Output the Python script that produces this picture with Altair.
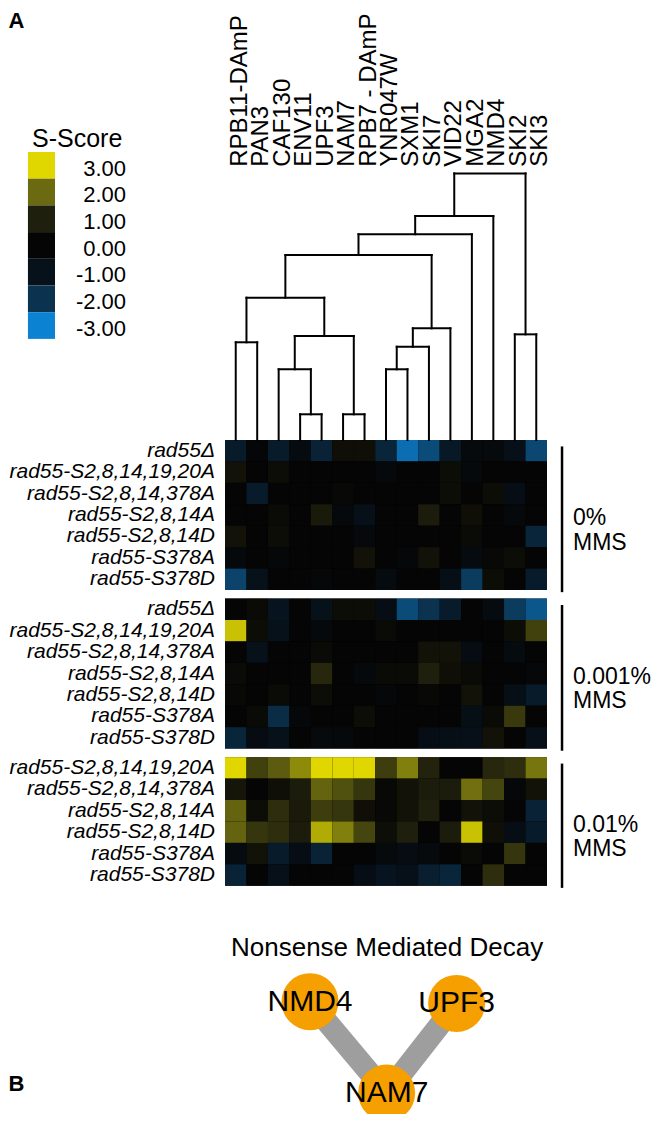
import altair as alt
import pandas as pd

# ---------------- data ----------------
GENES = ["RPB11-DAmP", "PAN3", "CAF130", "ENV11", "UPF3", "NAM7", "RPB7 - DAmP",
         "YNR047W", "SXM1", "SKI7", "VID22", "MGA2", "NMD4", "SKI2", "SKI3"]
STRAINS = ["rad55\u0394", "rad55-S2,8,14,19,20A", "rad55-S2,8,14,378A", "rad55-S2,8,14A",
           "rad55-S2,8,14D", "rad55-S378A", "rad55-S378D"]
STRAINS_001 = STRAINS[1:]
BLOCK_TITLES = ["0%", "0.001%", "0.01%"]
BLOCK_SUB = "MMS"

MMS_0 = [
    [-1.3, -0.1, -1.3, -0.5, -1.5, 0.4, 0.4, -1.6, -2.75, -2.3, -1.2, -0.4, -0.4, -0.9, -2.25],
    [0.5, 0.0, 0.3, 0.0, 0.0, 0.0, 0.0, -0.3, 0.0, 0.0, 0.3, -0.3, 0.0, 0.0, 0.0],
    [0.0, -1.3, 0.0, 0.0, 0.0, 0.1, 0.0, 0.0, 0.0, 0.0, 0.3, 0.0, 0.3, -0.7, 0.0],
    [0.0, 0.0, 0.2, 0.0, 0.8, -0.3, -0.9, 0.0, 0.0, 0.9, 0.0, 0.4, 0.0, -0.3, 0.0],
    [0.5, 0.0, 0.3, 0.0, 0.0, 0.0, -0.3, 0.0, 0.0, 0.0, 0.0, 0.2, 0.0, 0.0, -1.6],
    [-0.3, 0.0, -0.2, 0.0, 0.0, 0.0, 0.5, 0.0, -0.2, 0.5, 0.0, -0.5, 0.1, 0.3, 0.0],
    [-2.2, -1.0, 0.0, 0.0, -0.2, 0.0, 0.0, -0.5, 0.0, 0.0, -0.8, -2.1, 0.3, 0.0, -1.3],
]
MMS_0001 = [
    [0.0, 0.2, -1.1, 0.0, -1.0, 0.3, 0.3, -0.7, -2.3, -2.0, -1.3, 0.0, -0.5, -2.1, -2.45],
    [2.8, 0.3, -1.0, 0.0, -0.3, 0.0, 0.0, 0.2, 0.0, 0.0, 0.0, 0.0, 0.0, 0.3, 1.45],
    [0.0, -1.0, 0.0, 0.0, 0.2, 0.0, 0.0, 0.0, 0.0, 0.5, 0.5, -0.6, 0.0, -0.5, 0.0],
    [0.2, 0.0, 0.0, 0.0, 1.1, 0.0, -0.3, 0.2, 0.2, 1.0, 0.4, 0.2, 0.0, 0.0, -0.2],
    [0.1, 0.0, 0.2, 0.0, 0.3, 0.0, 0.0, -0.2, 0.0, 0.1, 0.0, 0.5, 0.0, -0.8, -1.3],
    [0.0, 0.2, -1.8, -0.2, 0.0, 0.0, 0.3, 0.0, 0.0, 0.0, 0.0, -0.8, 0.2, 1.35, 0.0],
    [-1.6, -0.6, -1.0, 0.0, -0.4, -0.3, 0.0, 0.0, 0.0, -0.7, -0.8, -0.9, 0.5, 0.0, -0.9],
]
MMS_001 = [
    [3.0, 1.45, 1.8, 2.3, 3.0, 3.0, 3.0, 1.4, 2.2, 1.05, 0.0, 0.0, 1.1, 1.2, 2.1],
    [0.6, 0.0, 0.4, 0.9, 1.9, 1.65, 1.3, 0.1, 0.5, 0.9, 0.9, 2.05, 1.5, -0.2, 0.5],
    [1.9, 0.3, 1.2, 0.8, 1.4, 1.3, 0.4, 0.1, 0.5, 1.0, 0.0, 0.5, 0.3, 0.0, -1.5],
    [1.9, 1.3, 1.2, 0.9, 2.6, 2.2, 1.5, 0.35, 1.0, 0.0, 0.9, 2.8, 0.4, -0.7, -1.3],
    [-0.5, 0.5, -1.3, -0.7, -1.5, 0.0, 0.0, -0.4, -0.6, -0.4, 0.0, 0.2, 0.0, 1.3, 0.0],
    [-1.5, 0.0, -0.9, 0.0, 0.0, 0.0, -0.7, -1.1, -0.9, -1.4, -1.6, 0.0, 1.2, 0.0, 0.0],
]

# dendrogram linkage: (left id, right id, merge height); leaves are 0..14, merges 15..
LINK_LEFT = [3, 5, 7, 2, 0, 17, 18, 13, 20, 19, 24, 25, 26, 27]
LINK_RIGHT = [4, 6, 8, 15, 1, 9, 16, 14, 10, 21, 23, 11, 12, 22]
LINK_HEIGHT = [1.20, 1.20, 3.30, 3.30, 4.56, 4.35, 4.85, 4.93, 5.21, 6.64, 8.63, 9.60, 10.45, 12.44]

LEGEND_VALUES = [3, 2, 1, 0, -1, -2, -3]
LEGEND_COLORS = ["#e0d700", "#6b6a10", "#1f1f0d", "#050505", "#07111a", "#0b3350", "#0b82d2"]

NODE_NAMES = ["NMD4", "UPF3", "NAM7"]
NODE_X = [3.96, 10.79, 7.53]
NODE_Y = [26.21, 26.29, 30.47]
EDGE_FROM = ["NMD4", "UPF3"]
EDGE_TO = ["NAM7", "NAM7"]
NETWORK_TITLE = "Nonsense Mediated Decay"

# ---------------- layout ----------------
W, H = 646, 1106
CELL_W = 322 / 15
ROW_H = 21.43
HM_LEFT, HM_TOP = 217, 432
XDOM = [-HM_LEFT / CELL_W, (W - HM_LEFT) / CELL_W]
YDOM = [-HM_TOP / ROW_H, (H - HM_TOP) / ROW_H]
GAP = 0.4
FONT = "Liberation Sans"

blocks = [(MMS_0, STRAINS), (MMS_0001, STRAINS), (MMS_001, STRAINS_001)]
starts = []
s0 = 0.0
for vals, _ in blocks:
    starts.append(s0)
    s0 += len(vals) + GAP


def X(f):
    return alt.X(f"{f}:Q", scale=alt.Scale(domain=XDOM, nice=False, zero=False), axis=None)


def Y(f):
    return alt.Y(f"{f}:Q", scale=alt.Scale(domain=YDOM, nice=False, zero=False, reverse=True), axis=None)


asc = sorted(zip(LEGEND_VALUES, LEGEND_COLORS))
COLOR = alt.Color("s:Q", scale=alt.Scale(domain=[a for a, _ in asc], range=[c for _, c in asc],
                                         clamp=True, interpolate="rgb"), legend=None)

# heatmap table
cells, rowlabs, bg, bars, btxt = [], [], [], [], []
for b, ((vals, names), st) in enumerate(zip(blocks, starts)):
    n = len(vals)
    bg.append({"x": 0, "x2": len(GENES), "y": st, "y2": st + n})
    bars.append({"x": 15.7, "y": st + 0.3, "y2": st + n + 0.1})
    mid = st + n / 2
    btxt.append({"x": 16.21, "y": mid + 0.15, "t": BLOCK_TITLES[b]})
    btxt.append({"x": 16.21, "y": mid + 1.3, "t": BLOCK_SUB})
    for r, (row, nm) in enumerate(zip(vals, names)):
        rowlabs.append({"x": -0.466, "y": st + r + 0.5, "t": nm})
        for c, v in enumerate(row):
            cells.append({"x": c, "x2": c + 1, "y": st + r, "y2": st + r + 1, "s": v})

cells = pd.DataFrame(cells)
rowlabs = pd.DataFrame(rowlabs)
bg = pd.DataFrame(bg)
bars = pd.DataFrame(bars)
btxt = pd.DataFrame(btxt)

# dendrogram segments
pos = {i: (i + 0.5, 0.0) for i in range(len(GENES))}
segs = []
for k, (a, b, h) in enumerate(zip(LINK_LEFT, LINK_RIGHT, LINK_HEIGHT)):
    xa, ha = pos[a]
    xb, hb = pos[b]
    segs.append({"x": xa, "x2": xa, "y": -ha, "y2": -h})
    segs.append({"x": xb, "x2": xb, "y": -hb, "y2": -h})
    segs.append({"x": xa, "x2": xb, "y": -h, "y2": -h})
    pos[len(GENES) + k] = ((xa + xb) / 2, h)
segs = pd.DataFrame(segs)

genes_df = pd.DataFrame({"x": [i + 0.5 for i in range(len(GENES))], "y": -12.75, "t": GENES})

LEG_X0, LEG_X1, LEG_TOP, LEG_STEP = -9.18, -7.92, -13.44, 1.246
leg = pd.DataFrame({
    "x": LEG_X0, "x2": LEG_X1,
    "y": [LEG_TOP + i * LEG_STEP for i in range(len(LEGEND_VALUES))],
    "y2": [LEG_TOP + (i + 1) * LEG_STEP for i in range(len(LEGEND_VALUES))],
    "s": LEGEND_VALUES,
    "t": [f"{v:.2f}" for v in LEGEND_VALUES],
})
leg["ly"] = (leg["y"] + leg["y2"]) / 2 + 0.15
leg["lx"] = -4.61

nodes = pd.DataFrame({"name": NODE_NAMES, "x": NODE_X, "y": NODE_Y})
npos = {r.name: (r.x, r.y) for r in nodes.itertuples(index=False)}
edges = pd.DataFrame({
    "x": [npos[a][0] for a in EDGE_FROM], "y": [npos[a][1] for a in EDGE_FROM],
    "x2": [npos[b][0] for b in EDGE_TO], "y2": [npos[b][1] for b in EDGE_TO],
})

# ---------------- layers ----------------
layers = []
layers.append(alt.Chart(bg).mark_rect(color="#000000").encode(x=X("x"), x2="x2", y=Y("y"), y2="y2"))
layers.append(alt.Chart(cells).mark_rect(strokeWidth=0).encode(x=X("x"), x2="x2", y=Y("y"), y2="y2", color=COLOR))
layers.append(alt.Chart(rowlabs).mark_text(align="right", baseline="middle", fontStyle="italic",
                                           fontSize=21, font=FONT, color="#000000")
              .encode(x=X("x"), y=Y("y"), text="t:N"))
layers.append(alt.Chart(bars).mark_rule(strokeWidth=2.5, color="#000000")
              .encode(x=X("x"), y=Y("y"), y2="y2"))
layers.append(alt.Chart(btxt).mark_text(align="left", baseline="middle", fontSize=23, font=FONT, color="#000000")
              .encode(x=X("x"), y=Y("y"), text="t:N"))
layers.append(alt.Chart(segs).mark_rule(strokeWidth=2, color="#000000", strokeCap="square")
              .encode(x=X("x"), x2="x2", y=Y("y"), y2="y2"))
layers.append(alt.Chart(genes_df).mark_text(angle=270, align="left", baseline="alphabetic", dy=11,
                                            fontSize=24, font=FONT, color="#000000")
              .encode(x=X("x"), y=Y("y"), text="t:N"))
layers.append(alt.Chart(leg).mark_rect(strokeWidth=0).encode(x=X("x"), x2="x2", y=Y("y"), y2="y2", color=COLOR))
layers.append(alt.Chart(leg).mark_text(align="right", baseline="middle", fontSize=22, font=FONT, color="#000000")
              .encode(x=X("lx"), y=Y("ly"), text="t:N"))
layers.append(alt.Chart(pd.DataFrame({"x": [-8.99], "y": [-14.05], "t": ["S-Score"]}))
              .mark_text(align="left", baseline="middle", fontSize=25, font=FONT, color="#000000")
              .encode(x=X("x"), y=Y("y"), text="t:N"))
layers.append(alt.Chart(pd.DataFrame({"x": [XDOM[0] + 0.02, XDOM[0] + 0.02], "y": [YDOM[0] + 0.12, 29.6], "t": ["A", "B"]}))
              .mark_text(align="left", baseline="top", fontSize=22, fontWeight="bold", font=FONT, color="#000000")
              .encode(x=X("x"), y=Y("y"), text="t:N"))
layers.append(alt.Chart(pd.DataFrame({"x": [7.55], "y": [23.7], "t": [NETWORK_TITLE]}))
              .mark_text(align="center", baseline="middle", fontSize=26, font=FONT, color="#000000")
              .encode(x=X("x"), y=Y("y"), text="t:N"))
layers.append(alt.Chart(edges).mark_rule(strokeWidth=22, color="#9e9e9e")
              .encode(x=X("x"), x2="x2", y=Y("y"), y2="y2"))
layers.append(alt.Chart(nodes).mark_circle(size=3249, color="#f5a000", opacity=1)
              .encode(x=X("x"), y=Y("y")))
layers.append(alt.Chart(nodes).mark_text(align="center", baseline="middle", fontSize=30, font=FONT, color="#000000")
              .encode(x=X("x"), y=Y("y"), text="name:N"))

chart = alt.layer(*layers).properties(
    width=W, height=H, padding=0,
    autosize=alt.AutoSizeParams(type="none"),
).configure_view(strokeWidth=0)

chart.save("out.html", embed_options={"renderer": "svg", "actions": False})
